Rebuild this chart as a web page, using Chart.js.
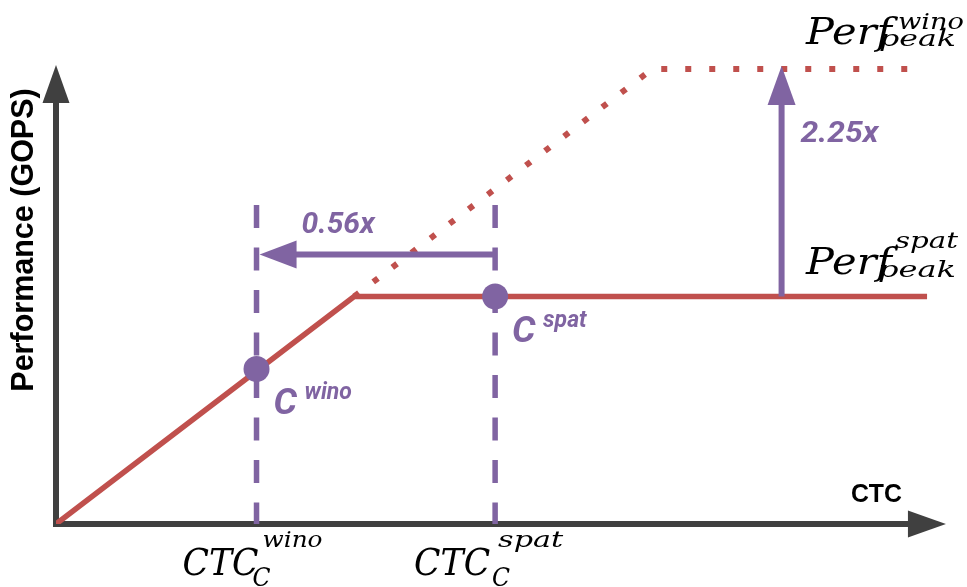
<!DOCTYPE html>
<html>
<head>
<meta charset="utf-8">
<script src="https://cdn.jsdelivr.net/npm/chart.js@4"></script>
<style>
  html, body { margin: 0; padding: 0; background: #ffffff; }
  #wrap { width: 967px; height: 587px; }
</style>
</head>
<body>
<div id="wrap"><canvas id="chart" width="967" height="587"></canvas></div>
<script>
// Roofline sketch: compute-to-communication ratio (CTC) against performance.
// Units are relative; both axes run from 0 to 100.
const spatRoof = [{ x: 0, y: 0 }, { x: 33.2, y: 45.5 }, { x: 97, y: 45.5 }];
const winoRoof = [{ x: 33.2, y: 45.5 }, { x: 66.4, y: 91 }, { x: 96.2, y: 91 }];
const ctcWino = 22.33;
const ctcSpat = 48.9;
const guideTop = 63.8;
const designPoints = [{ x: ctcWino, y: 31 }, { x: ctcSpat, y: 45.5 }];
const ctcRatioY = 53.9;           // height of the horizontal ratio arrow
const ctcRatioTip = 22.67;        // where that arrow points
const perfArrowX = 80.8;          // position of the vertical ratio arrow
const perfArrowTop = 91.6;
const axisEnd = { x: 99.1, y: 91.8 };
const ratioLabels = ['0.56x', '2.25x'];

const RED = '#c0504d';
const PURPLE = '#8064a2';
const AXIS = '#404040';

function arrow(ctx, x1, y1, x2, y2, color, width, headLen, headHalf) {
  const a = Math.atan2(y2 - y1, x2 - x1);
  const bx = x2 - headLen * Math.cos(a);
  const by = y2 - headLen * Math.sin(a);
  ctx.save();
  ctx.strokeStyle = color;
  ctx.fillStyle = color;
  ctx.lineWidth = width;
  ctx.lineCap = 'butt';
  ctx.beginPath();
  ctx.moveTo(x1, y1);
  ctx.lineTo(bx + Math.cos(a), by + Math.sin(a));
  ctx.stroke();
  ctx.beginPath();
  ctx.moveTo(x2, y2);
  ctx.lineTo(bx - headHalf * Math.sin(a), by + headHalf * Math.cos(a));
  ctx.lineTo(bx + headHalf * Math.sin(a), by - headHalf * Math.cos(a));
  ctx.closePath();
  ctx.fill();
  ctx.restore();
}

// draw text, optionally squeezed/stretched to a given width
function text(ctx, s, x, y, font, color, w) {
  ctx.save();
  ctx.font = font;
  ctx.fillStyle = color;
  ctx.textAlign = 'left';
  ctx.textBaseline = 'alphabetic';
  ctx.translate(x, y);
  if (w) {
    const m = ctx.measureText(s).width;
    ctx.scale(w / m, 1);
  }
  ctx.fillText(s, 0, 0);
  ctx.restore();
}

const MATH = '"DejaVu Serif", "Liberation Serif", serif';
const SANS = '"Liberation Sans", Arial, sans-serif';
const ROBO = 'Roboto, "Liberation Sans", sans-serif';

// Math-style label: base text with superscript and subscript
function mathLabel(ctx, base, sup, sub, x, y, o) {
  text(ctx, base, x, y, 'italic 38px ' + MATH, '#000', o.bw);
  if (sup) text(ctx, sup, x + o.supDx, y + o.supDy, 'italic 23px ' + MATH, '#000', o.supW);
  if (sub) text(ctx, sub, x + o.subDx, y + o.subDy, 'italic ' + (o.subSize || 23) + 'px ' + MATH, '#000', o.subW);
}

const axesPlugin = {
  id: 'axesArrows',
  beforeDatasetsDraw(chart) {
    const { ctx, scales: { x, y } } = chart;
    const ox = x.getPixelForValue(0), oy = y.getPixelForValue(0);
    arrow(ctx, ox - 3, oy, x.getPixelForValue(axisEnd.x), oy, AXIS, 6, 38, 13.5);
    arrow(ctx, ox, oy + 3, ox, y.getPixelForValue(axisEnd.y), AXIS, 6, 38, 13.5);

    // axis titles
    text(ctx, 'CTC', x.getPixelForValue(axisEnd.x) - 95, oy - 22, 'bold 25px ' + SANS, '#000', 51);
    ctx.save();
    ctx.translate(33, 240);
    ctx.rotate(-Math.PI / 2);
    ctx.font = 'bold 30.5px ' + SANS;
    ctx.fillStyle = '#000';
    ctx.textAlign = 'center';
    ctx.textBaseline = 'alphabetic';
    ctx.fillText('Performance (GOPS)', 0, 0);
    ctx.restore();
  },
  afterDatasetsDraw(chart) {
    const { ctx, scales: { x, y } } = chart;
    // horizontal ratio arrow between the two CTC guides
    const ay = y.getPixelForValue(ctcRatioY);
    arrow(ctx, x.getPixelForValue(ctcSpat), ay, x.getPixelForValue(ctcRatioTip), ay, PURPLE, 6, 37, 14);
    // vertical ratio arrow between the two peaks
    const vx = x.getPixelForValue(perfArrowX);
    arrow(ctx, vx, y.getPixelForValue(spatRoof[1].y), vx, y.getPixelForValue(perfArrowTop), PURPLE, 6, 39, 14);

    text(ctx, ratioLabels[0], x.getPixelForValue(ctcWino) + 45, ay - 22, 'italic bold 30px ' + ROBO, PURPLE);
    text(ctx, ratioLabels[1], vx + 19, y.getPixelForValue(perfArrowTop) + 76, 'italic bold 30px ' + ROBO, PURPLE, 78);

    // design point labels
    const pw = designPoints[0], ps = designPoints[1];
    const wx = x.getPixelForValue(pw.x), wy = y.getPixelForValue(pw.y);
    const sx = x.getPixelForValue(ps.x), sy = y.getPixelForValue(ps.y);
    text(ctx, 'C', wx + 17, wy + 45, 'italic bold 37px ' + ROBO, PURPLE);
    text(ctx, 'wino', wx + 48, wy + 30, 'italic bold 23px ' + ROBO, PURPLE);
    text(ctx, 'C', sx + 17, sy + 45, 'italic bold 37px ' + ROBO, PURPLE);
    text(ctx, 'spat', sx + 48, sy + 30, 'italic bold 23px ' + ROBO, PURPLE);

    // peak performance labels
    const ywp = y.getPixelForValue(winoRoof[2].y);
    const ysp = y.getPixelForValue(spatRoof[2].y);
    mathLabel(ctx, 'Perf', 'wino', 'peak', 806, ywp - 25,
      { bw: 86, supDx: 92, supDy: -15, supW: 66, subDx: 73, subDy: 2, subW: 77 });
    mathLabel(ctx, 'Perf', 'spat', 'peak', 806, ysp - 23,
      { bw: 86, supDx: 89, supDy: -26, supW: 63, subDx: 72, subDy: 3, subW: 78 });

    // CTC labels under the guides
    const bx1 = x.getPixelForValue(ctcWino), bx2 = x.getPixelForValue(ctcSpat);
    const by = y.getPixelForValue(0) + 51;
    mathLabel(ctx, 'CTC', 'wino', 'C', bx1 - 74, by,
      { bw: 76, supDx: 80, supDy: -28, supW: 60, subDx: 70, subDy: 11, subW: 18, subSize: 26 });
    mathLabel(ctx, 'CTC', 'spat', 'C', bx2 - 81, by,
      { bw: 76, supDx: 84, supDy: -28, supW: 65, subDx: 78, subDy: 11, subW: 18, subSize: 26 });
  }
};

new Chart(document.getElementById('chart'), {
  type: 'line',
  data: {
    datasets: [
      {
        label: 'design points',
        data: designPoints,
        showLine: false,
        pointRadius: 13,
        pointHoverRadius: 13,
        pointBackgroundColor: PURPLE,
        pointBorderColor: PURPLE,
        pointBorderWidth: 0,
        order: 0
      },
      {
        label: 'spatial roof',
        data: spatRoof,
        borderColor: RED,
        borderWidth: 5.5,
        pointRadius: 0,
        tension: 0,
        borderJoinStyle: 'miter',
        order: 1
      },
      {
        label: 'winograd roof',
        data: winoRoof,
        borderColor: RED,
        borderWidth: 6,
        borderDash: [6, 18],
        borderCapStyle: 'butt',
        pointRadius: 0,
        tension: 0,
        order: 2
      },
      {
        label: 'CTC wino',
        data: [{ x: ctcWino, y: guideTop }, { x: ctcWino, y: 0 }],
        borderColor: PURPLE,
        borderWidth: 5.5,
        borderDash: [23, 19.5],
        borderCapStyle: 'butt',
        pointRadius: 0,
        order: 3
      },
      {
        label: 'CTC spat',
        data: [{ x: ctcSpat, y: guideTop }, { x: ctcSpat, y: 0 }],
        borderColor: PURPLE,
        borderWidth: 5.5,
        borderDash: [23, 19.5],
        borderCapStyle: 'butt',
        pointRadius: 0,
        order: 3
      }
    ]
  },
  options: {
    responsive: false,
    animation: false,
    devicePixelRatio: 1,
    layout: { padding: { left: 56, right: 11, top: 24, bottom: 63 } },
    plugins: { legend: { display: false }, tooltip: { enabled: false } },
    events: [],
    scales: {
      x: { type: 'linear', min: 0, max: 100, display: false },
      y: { type: 'linear', min: 0, max: 100, display: false }
    }
  },
  plugins: [axesPlugin]
});
</script>
</body>
</html>
